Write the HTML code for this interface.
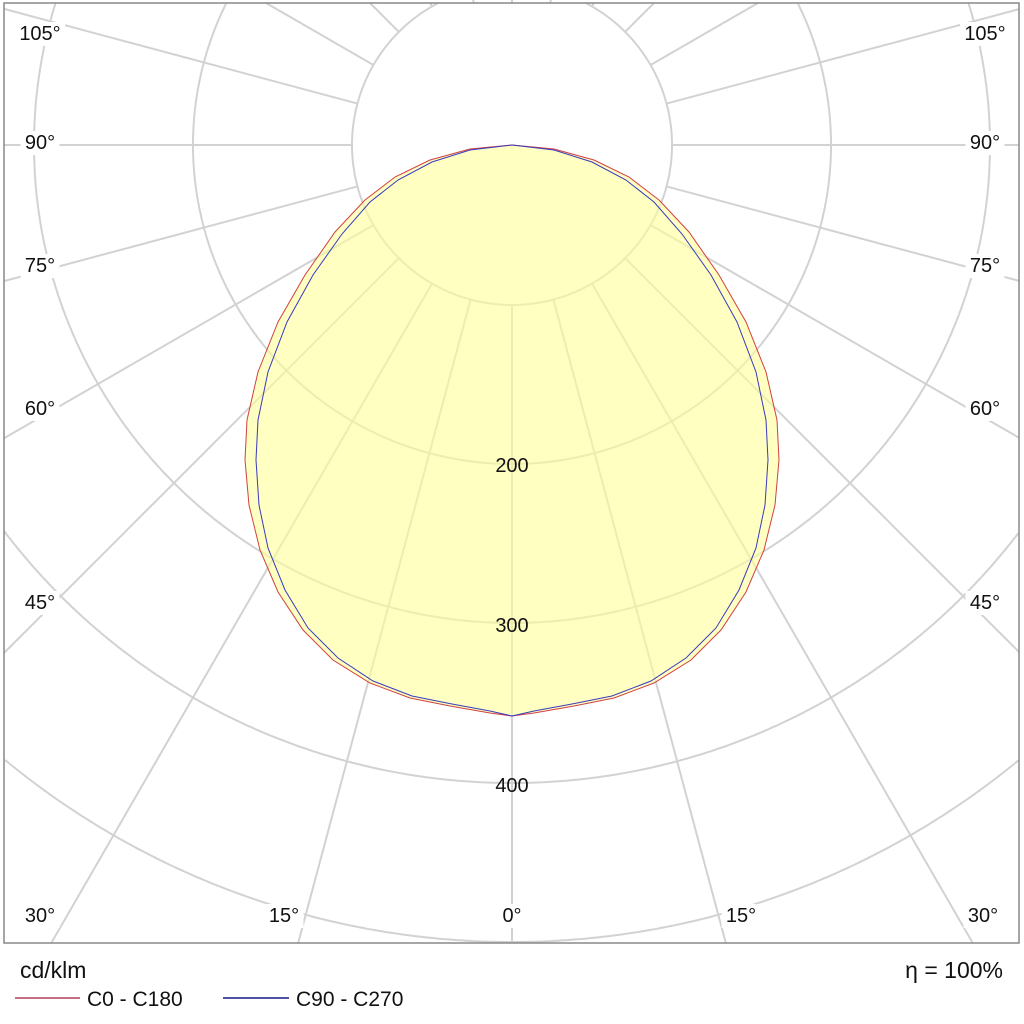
<!DOCTYPE html>
<html><head><meta charset="utf-8"><style>
html,body{margin:0;padding:0;background:#fff;width:1024px;height:1024px;overflow:hidden;}
svg{display:block;font-family:"Liberation Sans",Arial,sans-serif;}
</style></head><body>
<svg id="s" width="1024" height="1024" viewBox="0 0 1024 1024" xmlns="http://www.w3.org/2000/svg">
<g id="grid" stroke="#d2d2d2" stroke-width="2" fill="none"></g>
<polygon fill="#ffff99" fill-opacity="0.6" points="512,145 470,149 430,160 395,177 365,200 335,232 305,275 278,322 258,372 247,420 245,460 249,505 260,550 278,592 303,630 333,660 370,683 410,698 450,706 490,713 512,716 534,713 574,706 614,698 654,683 691,660 721,630 746,592 764,550 775,505 779,460 777,420 766,372 746,322 719,275 689,232 659,200 629,177 594,160 554,149"/>
<polyline fill="none" stroke="#d04040" stroke-width="1" points="512,145 470,149 430,160 395,177 365,200 335,232 305,275 278,322 258,372 247,420 245,460 249,505 260,550 278,592 303,630 333,660 370,683 410,698 450,706 490,713 512,716 534,713 574,706 614,698 654,683 691,660 721,630 746,592 764,550 775,505 779,460 777,420 766,372 746,322 719,275 689,232 659,200 629,177 594,160 554,149 512,145"/>
<polyline fill="none" stroke="#3a3ac0" stroke-width="1" points="512,145 470,150 432,162 398,180 370,202 342,234 313,275 287,322 268,372 258,420 256,460 259,505 268,548 285,590 308,628 338,658 373,681 412,696 452,704 490,711 512,716 534,711 572,704 612,696 651,681 686,658 716,628 739,590 756,548 765,505 768,460 766,420 756,372 737,322 711,275 682,234 654,202 626,180 592,162 554,150 512,145"/>
<rect x="4" y="3" width="1015" height="940" fill="none" stroke="#888" stroke-width="1.5"/>
<g id="lab" font-size="20" fill="#111" text-anchor="middle"></g>
<text x="20" y="978" font-size="23" fill="#111">cd/klm</text>
<text x="1003" y="978" font-size="23" fill="#111" text-anchor="end">η = 100%</text>
<line x1="15" y1="998" x2="80" y2="998" stroke="#c07080" stroke-width="2"/>
<text x="87" y="1006" font-size="21" fill="#111">C0 - C180</text>
<line x1="223" y1="998" x2="289" y2="998" stroke="#5050a0" stroke-width="2"/>
<text x="296" y="1006" font-size="21" fill="#111">C90 - C270</text>
</svg>
<script>
var g=document.getElementById('grid'),ns="http://www.w3.org/2000/svg";
var X0=4,X1=1019,Y0=3,Y1=943,cx=512,cy=145;
function inb(x,y){return x>=X0&&x<=X1&&y>=Y0&&y<=Y1;}
for(var a=-180;a<180;a+=15){var t=a*Math.PI/180,dx=Math.sin(t),dy=Math.cos(t);
var tm=1e9;
if(dx>1e-9)tm=Math.min(tm,(X1-cx)/dx);if(dx<-1e-9)tm=Math.min(tm,(X0-cx)/dx);
if(dy>1e-9)tm=Math.min(tm,(Y1-cy)/dy);if(dy<-1e-9)tm=Math.min(tm,(Y0-cy)/dy);
var l=document.createElementNS(ns,'line');
l.setAttribute('x1',cx+160*dx);l.setAttribute('y1',cy+160*dy);
l.setAttribute('x2',cx+tm*dx);l.setAttribute('y2',cy+tm*dy);g.appendChild(l);}
[160,319,478,638,797].forEach(function(r){
var runs=[],cur=[];
for(var i=0;i<=1440;i++){var t=i*Math.PI/720,x=cx+r*Math.cos(t),y=cy+r*Math.sin(t);
if(inb(x,y)){cur.push(x.toFixed(1)+','+y.toFixed(1));}else{if(cur.length>1)runs.push(cur);cur=[];}}
if(cur.length>1)runs.push(cur);
runs.forEach(function(p){var pl=document.createElementNS(ns,'polyline');pl.setAttribute('points',p.join(' '));g.appendChild(pl);});
});
var lab=document.getElementById('lab');
function L(x,y,s){var r=document.createElementNS(ns,'rect');var w=s.length*11+6;r.setAttribute('x',x-w/2);r.setAttribute('y',y-18);r.setAttribute('width',w);r.setAttribute('height',24);r.setAttribute('fill','#fff');lab.appendChild(r);
var tx=document.createElementNS(ns,'text');tx.setAttribute('x',x);tx.setAttribute('y',y);tx.textContent=s;lab.appendChild(tx);}
var side=[[105,40],[90,149],[75,272],[60,415],[45,609]];
side.forEach(function(p){L(40,p[1],p[0]+'°');L(985,p[1],p[0]+'°');});
L(40,922,'30°');L(284,922,'15°');L(512,922,'0°');L(741,922,'15°');L(983,922,'30°');
function N(y,s){var tx=document.createElementNS(ns,'text');tx.setAttribute('x',512);tx.setAttribute('y',y);tx.textContent=s;lab.appendChild(tx);}
N(472,'200');N(632,'300');N(792,'400');
</script>
</body></html>
